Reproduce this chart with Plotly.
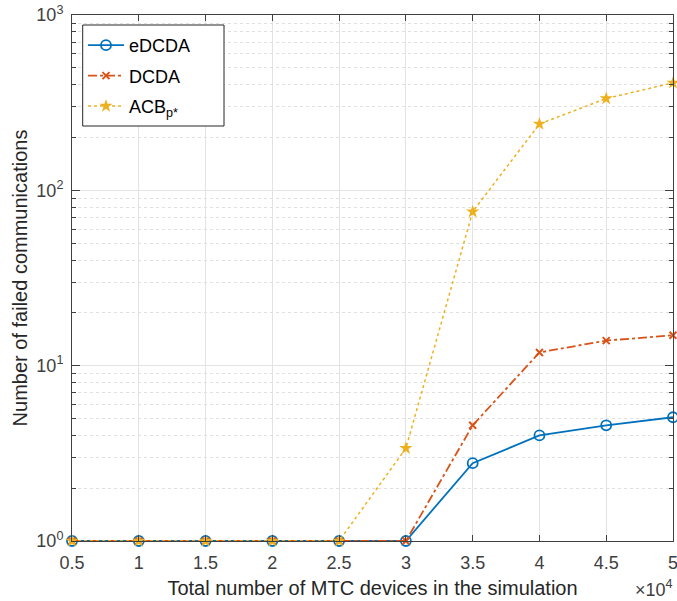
import plotly.graph_objects as go

# Number of MTC devices (in units of 10^4)
devices = [0.5, 1.0, 1.5, 2.0, 2.5, 3.0, 3.5, 4.0, 4.5, 5.0]

# Failed communications per scheme
edcda = [1, 1, 1, 1, 1, 1, 2.78, 4.0, 4.57, 5.08]
dcda = [1, 1, 1, 1, 1, 1, 4.57, 11.9, 13.9, 14.9]
acb = [1, 1, 1, 1, 1, 3.38, 75.5, 239, 334, 410]

x_ticks = [0.5, 1, 1.5, 2, 2.5, 3, 3.5, 4, 4.5, 5]
x_ticktext = ["0.5", "1", "1.5", "2", "2.5", "3", "3.5", "4", "4.5", "5"]
y_ticks = [1, 10, 100, 1000]
y_ticktext = ["10<sup>0</sup>", "10<sup>1</sup>", "10<sup>2</sup>", "10<sup>3</sup>"]
y_minor = [m * 10 ** e for e in range(3) for m in range(2, 10)]

BLUE = "#0072BD"
RED = "#D95319"
YELLOW = "#EDB120"
AXIS = "#404040"
FONT = "Liberation Sans, Arial, sans-serif"

fig = go.Figure()
fig.add_trace(go.Scatter(
    x=devices, y=edcda, name="eDCDA", mode="lines+markers",
    legendgroup="a", cliponaxis=False,
    line=dict(color=BLUE, width=1.8),
    marker=dict(symbol="circle-open", size=10, color=BLUE, line=dict(color=BLUE, width=1.8)),
))
fig.add_trace(go.Scatter(
    x=devices, y=dcda, name="DCDA", mode="lines+markers",
    legendgroup="b", cliponaxis=False,
    line=dict(color=RED, width=1.8, dash="dashdot"),
    marker=dict(symbol="x-thin-open", size=7, color=RED, line=dict(color=RED, width=2)),
))
fig.add_trace(go.Scatter(
    x=devices, y=acb, name="ACB<sub>p*</sub>", mode="lines+markers",
    legendgroup="c", cliponaxis=False,
    line=dict(color=YELLOW, width=1.5, dash="dot"),
    marker=dict(symbol="star", size=10, color=YELLOW),
))

PLOT_W = 677 - 72 - 4
PLOT_H = 601 - 15 - 60

fig.update_layout(
    width=677, height=601,
    margin=dict(l=72, r=4, t=15, b=60),
    paper_bgcolor="white", plot_bgcolor="white",
    font=dict(family=FONT, size=18, color="#262626"),
    showlegend=True,
    legend=dict(
        x=(83 - 72) / PLOT_W, y=(541 - 27) / PLOT_H, xanchor="left", yanchor="top",
        traceorder="grouped",
        bgcolor="rgba(0,0,0,0)", borderwidth=0,
        font=dict(size=18, color="#000000"),
        itemwidth=36,
        tracegroupgap=4,
    ),
    xaxis=dict(
        range=[0.5, 5], tickvals=x_ticks, ticktext=x_ticktext,
        ticks="inside", ticklen=6, tickcolor=AXIS,
        showline=True, linecolor=AXIS, linewidth=1, mirror="allticks",
        showgrid=True, gridcolor="#e3e3e3", gridwidth=1,
        zeroline=False, automargin=False, ticklabeloverflow="allow",
        ticklabelstandoff=5,
        tickfont=dict(size=18, color="#404040"),
        title=dict(text="Total number of MTC devices in the simulation",
                   font=dict(size=20, color="#262626"), standoff=9),
    ),
    yaxis=dict(
        type="log", range=[0, 3], tickvals=y_ticks, ticktext=y_ticktext,
        ticks="inside", ticklen=8, tickcolor=AXIS,
        showline=True, linecolor=AXIS, linewidth=1, mirror="allticks",
        showgrid=True, gridcolor="#e3e3e3", gridwidth=1,
        zeroline=False, automargin=False, ticklabeloverflow="allow",
        ticklabelstandoff=4,
        tickfont=dict(size=18, color="#404040"),
        minor=dict(tickvals=y_minor, ticks="inside", ticklen=4, tickcolor=AXIS,
                   showgrid=True, gridcolor="#e0e0e0", griddash="dot", gridwidth=1),
        title=dict(text="Number of failed communications",
                   font=dict(size=20, color="#262626"), standoff=3),
    ),
)

# Legend frame
fig.add_shape(
    type="rect", xref="paper", yref="paper", layer="above",
    x0=(82.7 - 72) / PLOT_W, x1=(224 - 72) / PLOT_W,
    y0=(541 - 126) / PLOT_H, y1=(541 - 25) / PLOT_H,
    line=dict(color="#262626", width=1), fillcolor="white",
)

fig.add_annotation(
    xref="paper", yref="paper", x=1.0, y=0, xanchor="right", yanchor="top",
    yshift=-34, xshift=2,
    text="\u00d710<sup>4</sup>", showarrow=False,
    font=dict(size=18, color="#404040"),
)

fig.write_html("out.html")
